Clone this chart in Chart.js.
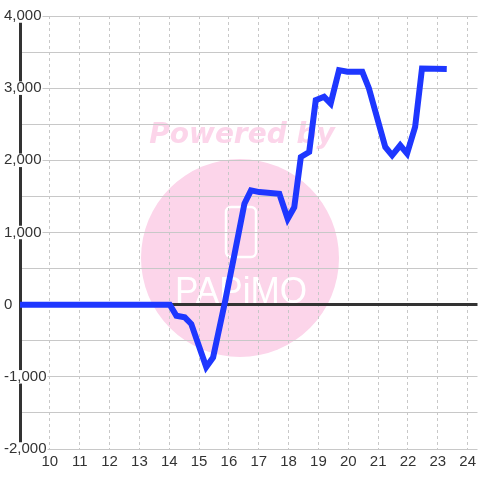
<!DOCTYPE html>
<html>
<head>
<meta charset="utf-8">
<script src="https://cdn.jsdelivr.net/npm/chart.js@4"></script>
<style>
  html, body { margin: 0; padding: 0; background: #fff; }
  #wrap { width: 480px; height: 480px; }
</style>
</head>
<body>
<div id="wrap"><canvas id="canvas_diff"></canvas></div>
<script>
// hour of day (x) and running difference (y)
var hours = [9, 14.02, 14.24, 14.52, 14.74, 15.24, 15.47, 15.86, 16.19, 16.52, 16.74, 17.02, 17.69, 17.97, 18.19,
    18.41, 18.69, 18.91, 19.19, 19.41, 19.69, 19.97, 20.47, 20.69, 21.24, 21.47, 21.74, 21.97, 22.24, 22.47, 23.3];
var diff = [0, 0, -153, -176, -268, -865, -732, 20, 704, 1399, 1583, 1560, 1537, 1190, 1351,
    2046, 2116, 2833, 2880, 2787, 3250, 3227, 3227, 3000, 2185, 2069, 2208, 2093, 2463, 3273, 3264];
var hourTicks = [10, 11, 12, 13, 14, 15, 16, 17, 18, 19, 20, 21, 22, 23, 24];

var points = hours.map((h, i) => ({ x: h, y: diff[i] }));

// pink "Powered by" watermark under the grid
const watermark = {
    id: 'watermark',
    beforeDraw(chart) {
        const c = chart.ctx;
        c.save();
        c.fillStyle = '#fcd5ea';
        c.beginPath();
        c.arc(240, 258, 99, 0, Math.PI * 2);
        c.fill();
        c.font = 'italic bold 28px "DejaVu Sans"';
        c.textAlign = 'center';
        c.textBaseline = 'alphabetic';
        c.fillText('Powered by', 242, 143, 188);
        // logo
        c.strokeStyle = '#ffffff';
        c.lineWidth = 2.5;
        c.beginPath();
        c.roundRect(226, 207, 30, 50, 5);
        c.stroke();
        c.fillStyle = '#ffffff';
        c.font = '36px "Liberation Sans"';
        c.fillText('PAPiMO', 241, 303, 132);
        c.restore();
    }
};

const ctx = document.getElementById('canvas_diff').getContext('2d');
var chart1 = new Chart(ctx, {
    type: 'line',
    data: {
        datasets: [
            {
                label: 'diff',
                data: points,
                borderColor: '#1e37ff',
                borderWidth: 6,
                pointRadius: 0,
                tension: 0,
                fill: false
            }
        ]
    },
    options: {
        responsive: true,
        maintainAspectRatio: false,
        animation: false,
        layout: { padding: { left: 20, top: 16, right: 0, bottom: 5 } },
        plugins: {
            legend: { display: false },
            tooltip: { enabled: false }
        },
        scales: {
            x: {
                type: 'linear',
                min: 9,
                max: 24.33,
                afterBuildTicks: axis => { axis.ticks = hourTicks.map(v => ({ value: v })); },
                grid: {
                    color: '#c8c8c8',
                    lineWidth: 1,
                    drawTicks: false
                },
                border: { display: false, dash: [3, 3] },
                ticks: {
                    color: '#333',
                    font: { family: '"Liberation Sans", Arial, sans-serif', size: 15 },
                    padding: 4,
                    maxRotation: 0,
                    autoSkip: false
                }
            },
            y: {
                min: -2000,
                max: 4000,
                afterFit: axis => { axis.width = 0; },
                grid: {
                    color: ctx => ctx.tick && ctx.tick.value === 0 ? '#333' : '#c8c8c8',
                    lineWidth: ctx => ctx.tick && ctx.tick.value === 0 ? 3 : 1,
                    drawTicks: false
                },
                border: { display: true, color: '#333', width: 3 },
                ticks: {
                    stepSize: 500,
                    mirror: true,
                    padding: -16,
                    color: '#333',
                    font: { family: '"Liberation Sans", Arial, sans-serif', size: 15, lineHeight: 0.9 },
                    showLabelBackdrop: true,
                    backdropColor: '#ffffff',
                    backdropPadding: { top: 0, bottom: 0, left: 1, right: 1 },
                    callback: v => v % 1000 === 0 ? v.toLocaleString('en-US') : ''
                }
            }
        }
    },
    plugins: [watermark]
});
</script>
</body>
</html>
